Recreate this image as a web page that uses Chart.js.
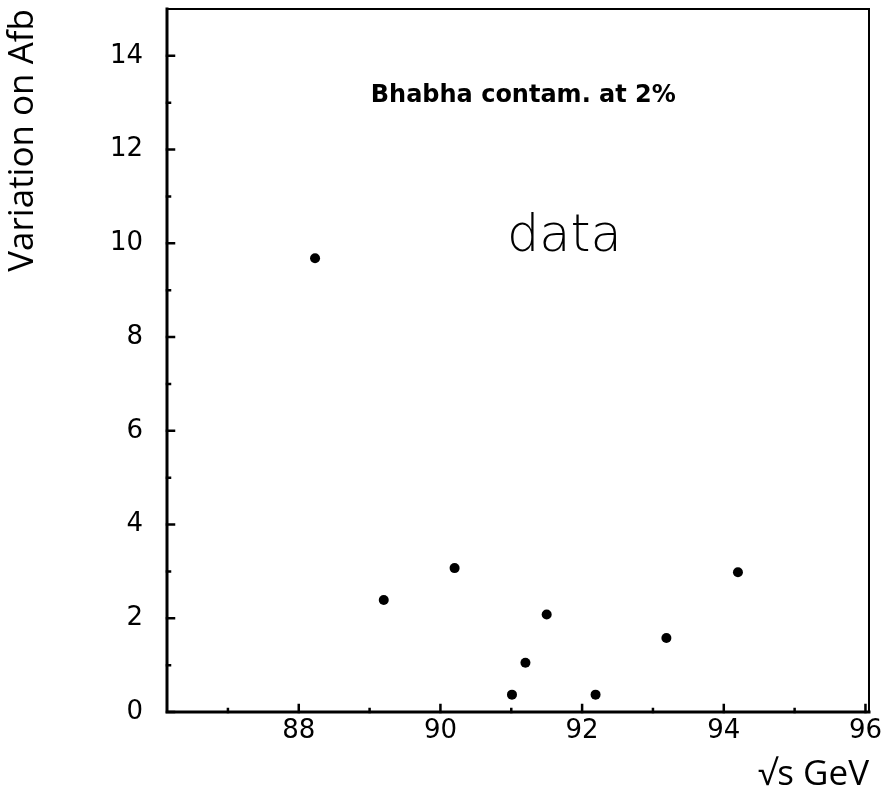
<!DOCTYPE html>
<html>
<head>
<meta charset="utf-8">
<script src="https://cdn.jsdelivr.net/npm/chart.js@4.4.1/dist/chart.umd.min.js"></script>
<style>
  html, body { margin: 0; padding: 0; background: #fff; }
  #wrap { width: 886px; height: 798px; }
</style>
</head>
<body>
<div id="wrap"><canvas id="c" width="886" height="798"></canvas></div>
<script>
// Centre-of-mass energies (GeV) and the measured variation on Afb
const energies = [88.23, 89.2, 90.2, 91.01, 91.2, 91.5, 92.19, 93.19, 94.2];
const afbVariation = [9.68, 2.39, 3.07, 0.37, 1.05, 2.08, 0.37, 1.58, 2.98];

const xTickValues = [88, 90, 92, 94, 96];
const xMinorValues = [87, 89, 91, 93, 95];
const yTickValues = [0, 2, 4, 6, 8, 10, 12, 14];
const yMinorValues = [1, 3, 5, 7, 9, 11, 13];

const annotationLines = [
  { text: 'Bhabha contam. at 2%', x: 91.17, y: 13.14, size: 24, weight: 'bold' },
  { text: 'data', x: 91.75, y: 10.12, size: 51, weight: '300' }
];

const ink = '#000';

// Frame with inward major/minor ticks and the in-plot annotations
const framePlugin = {
  id: 'frame',
  afterDatasetsDraw(chart) {
    const { ctx, chartArea: a, scales: { x, y } } = chart;
    ctx.save();
    ctx.strokeStyle = ink;
    ctx.lineCap = 'square';
    // left and bottom axes are drawn heavier than top and right
    ctx.lineWidth = 3;
    ctx.beginPath();
    ctx.moveTo(a.left, a.top);
    ctx.lineTo(a.left, a.bottom);
    ctx.lineTo(a.right, a.bottom);
    ctx.stroke();
    ctx.lineWidth = 2;
    ctx.beginPath();
    ctx.moveTo(a.left, a.top);
    ctx.lineTo(a.right, a.top);
    ctx.lineTo(a.right, a.bottom);
    ctx.stroke();

    ctx.lineWidth = 2.5;
    ctx.beginPath();
    yTickValues.forEach(v => {
      const py = y.getPixelForValue(v);
      ctx.moveTo(a.left, py); ctx.lineTo(a.left + 7, py);
    });
    yMinorValues.forEach(v => {
      const py = y.getPixelForValue(v);
      ctx.moveTo(a.left, py); ctx.lineTo(a.left + 3, py);
    });
    xTickValues.forEach(v => {
      const px = x.getPixelForValue(v);
      ctx.moveTo(px, a.bottom); ctx.lineTo(px, a.bottom - 7);
    });
    xMinorValues.forEach(v => {
      const px = x.getPixelForValue(v);
      ctx.moveTo(px, a.bottom); ctx.lineTo(px, a.bottom - 3);
    });
    ctx.stroke();

    ctx.fillStyle = ink;
    ctx.textAlign = 'center';
    ctx.textBaseline = 'middle';
    annotationLines.forEach(t => {
      ctx.font = `${t.weight} ${t.size}px "DejaVu Sans"`;
      ctx.fillText(t.text, x.getPixelForValue(t.x), y.getPixelForValue(t.y));
    });
    ctx.restore();
  }
};

new Chart(document.getElementById('c'), {
  type: 'scatter',
  data: {
    datasets: [{
      data: energies.map((e, i) => ({ x: e, y: afbVariation[i] })),
      pointRadius: 5,
      pointBackgroundColor: ink,
      pointBorderColor: ink,
      pointBorderWidth: 0
    }]
  },
  options: {
    responsive: false,
    animation: false,
    layout: { padding: { top: 9, right: 17, left: 0, bottom: 0 } },
    plugins: { legend: { display: false }, tooltip: { enabled: false } },
    scales: {
      x: {
        type: 'linear',
        min: 86.14,
        max: 96.05,
        grid: { display: false, drawTicks: false },
        border: { display: false },
        afterBuildTicks: s => { s.ticks = xTickValues.map(v => ({ value: v })); },
        afterFit: s => { s.height = 86; s.paddingLeft = 0; s.paddingRight = 0; },
        ticks: {
          color: ink,
          padding: 4,
          maxRotation: 0,
          font: { family: 'DejaVu Sans', size: 26 }
        },
        title: {
          display: true,
          text: '√s GeV',
          align: 'end',
          color: ink,
          padding: { bottom: 2 },
          font: { family: 'Open Sans', size: 35 }
        }
      },
      y: {
        type: 'linear',
        min: 0,
        max: 15,
        grid: { display: false, drawTicks: false },
        border: { display: false },
        afterBuildTicks: s => { s.ticks = yTickValues.map(v => ({ value: v })); },
        afterFit: s => { s.width = 167; s.paddingTop = 0; s.paddingBottom = 0; },
        ticks: {
          color: ink,
          padding: 24,
          font: { family: 'DejaVu Sans', size: 26 }
        },
        title: {
          display: true,
          text: 'Variation on Afb',
          align: 'end',
          color: ink,
          padding: { top: 2 },
          font: { family: 'Open Sans', size: 35 }
        }
      }
    }
  },
  plugins: [framePlugin]
});
</script>
</body>
</html>
